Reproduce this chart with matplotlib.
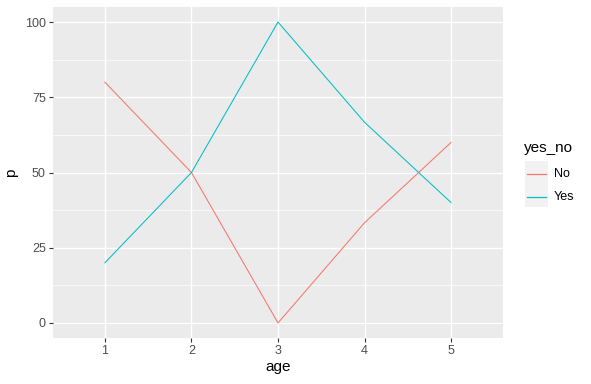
import matplotlib
matplotlib.use("Agg")
import matplotlib.pyplot as plt
from matplotlib.lines import Line2D
from matplotlib.patches import Rectangle

ages = [1, 2, 3, 4, 5]
series_names = ["No", "Yes"]
no_vals = [80, 50, 0, 33.3, 60]
yes_vals = [20, 50, 100, 66.7, 40]
y_ticks = [0, 25, 50, 75, 100]
colors = {"No": "#F8766D", "Yes": "#00BFC4"}

plt.rcParams['font.family'] = ['Liberation Sans', 'DejaVu Sans']

W, H = 591, 384
fig = plt.figure(figsize=(W / 100, H / 100), dpi=100)
L, R, T, B = 53, 503, 7, 338
ax = fig.add_axes([L / W, 1 - B / H, (R - L) / W, (B - T) / H])
ax.set_facecolor("#EBEBEB")
for s in ax.spines.values():
    s.set_visible(False)

ax.set_xlim(0.4, 5.6)
ax.set_ylim(-5, 105)
ax.set_xticks(ages)
ax.set_xticklabels([str(a) for a in ages])
ax.set_yticks(y_ticks)
ax.set_yticks([12.5, 37.5, 62.5, 87.5], minor=True)
ax.grid(which="major", color="white", linewidth=1.0)
ax.grid(which="minor", axis="y", color="white", linewidth=0.5)
ax.set_axisbelow(True)
ax.tick_params(axis="both", which="major", colors="#333333", length=2.7, width=0.8,
               labelsize=9, labelcolor="#4D4D4D", pad=2.5)
ax.tick_params(axis="both", which="minor", length=0)

ax.plot(ages, no_vals, color=colors["No"], linewidth=0.75, zorder=3)
ax.plot(ages, yes_vals, color=colors["Yes"], linewidth=0.75, zorder=3)

ax.set_xlabel("age", fontsize=11, color="black", labelpad=2)
ax.set_ylabel("p", fontsize=11, color="black", labelpad=5)

# legend
def fx(x): return x / W
def fy(y): return 1 - y / H
fig.text(fx(524), fy(148), "yes_no", fontsize=11, va="center", ha="left")
rect = Rectangle((fx(525), fy(207)), (548 - 525) / W, (207 - 161) / H,
                 transform=fig.transFigure, facecolor="#F2F2F2",
                 edgecolor="none", zorder=1)
fig.add_artist(rect)
for name, yy in zip(series_names, [174, 197]):
    ln = Line2D([fx(527), fx(546)], [fy(yy), fy(yy)], transform=fig.transFigure,
                color=colors[name], linewidth=0.9, zorder=5)
    fig.add_artist(ln)
    fig.text(fx(554), fy(yy), name, fontsize=9, va="center", ha="left", color="black")

fig.savefig("out.png", dpi=100)
